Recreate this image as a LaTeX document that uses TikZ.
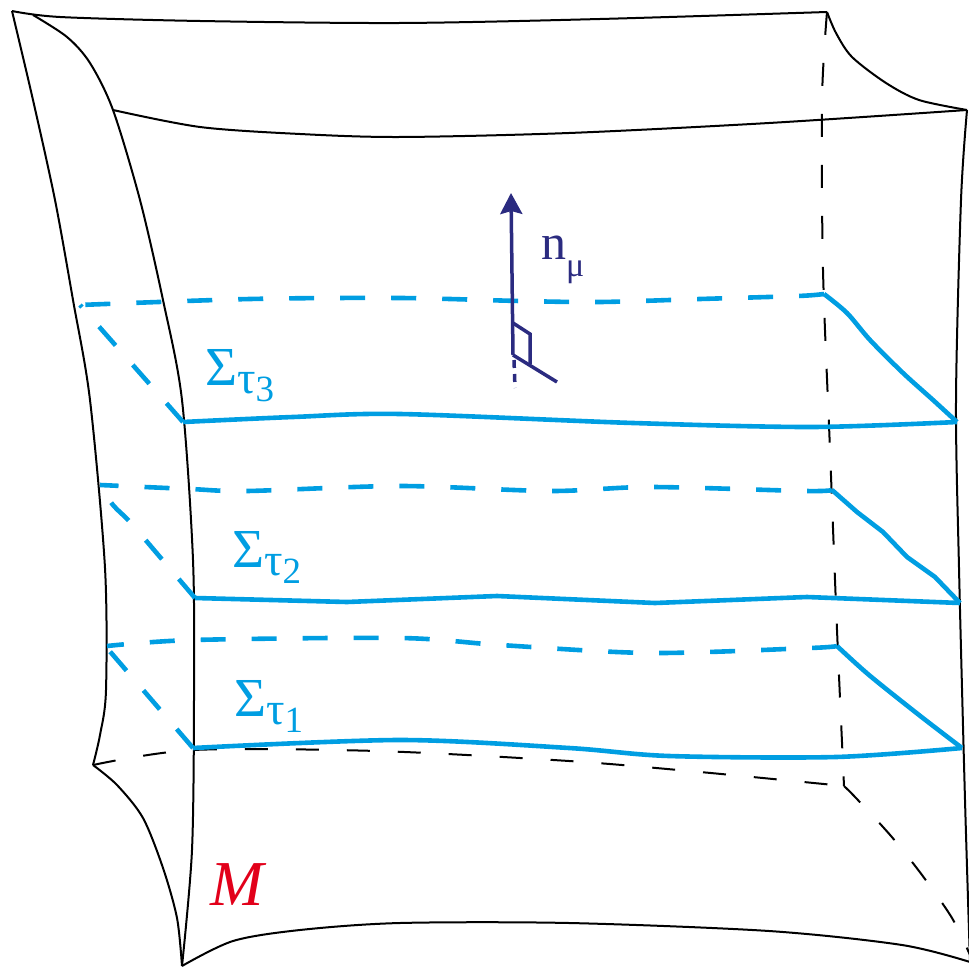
\documentclass[tikz,border=0pt]{standalone}
\usepackage{fontspec}
\setmainfont{Liberation Serif}
\usetikzlibrary{arrows.meta}
\definecolor{skyb}{RGB}{0,158,226}
\definecolor{navyb}{RGB}{43,43,128}
\definecolor{redM}{RGB}{226,0,26}
\newcommand{\sigmalab}[1]{\fontsize{55}{60}\selectfont Σ\raisebox{-8pt}{\fontsize{46}{50}\selectfont τ}\raisebox{-16pt}{\fontsize{37}{40}\selectfont #1}}
\begin{document}
\begin{tikzpicture}[x=1pt,y=-1pt,
  edge/.style={line width=2pt, black, line join=round},
  hidden/.style={edge, dash pattern=on 23pt off 28pt},
  surf/.style={line width=4.6pt, skyb, line join=round},
  surfhid/.style={surf, dash pattern=on 25pt off 26pt},
  normal/.style={line width=3.5pt, navyb},
  lab/.style={anchor=base west, inner sep=0pt, text=skyb}]
\useasboundingbox (0,0) rectangle (969,968);
% black edges
\draw[edge] plot[smooth] coordinates {(12,11) (60,17) (200,21) (400,23) (600,19) (827,12)};
\draw[edge] plot[smooth] coordinates {(12,11) (33,100) (55,200) (73,300) (90,400) (105,568) (106,690) (100,735) (93,765)};
\draw[edge] plot[smooth] coordinates {(33,15) (67,37) (90,63) (113,110) (140,200) (163,300) (182,400) (193,560) (194,700) (192,850) (182,966)};
\draw[edge] plot[smooth] coordinates {(113,110) (200,127) (300,134) (400,137) (569,133) (769,123) (967,110)};
\draw[edge] plot[smooth] coordinates {(827,12) (836,33) (852,57) (886,83) (919,100) (967,110)};
\draw[edge] plot[smooth] coordinates {(967,110) (961,200) (956,400) (959,568) (965,800) (970,962)};
\draw[edge] plot[smooth] coordinates {(93,765) (117,785) (143,818) (163,868) (177,918) (182,966)};
\draw[edge] plot[smooth] coordinates {(182,966) (233,941) (300,930) (400,923) (569,923) (769,931) (902,945) (970,962)};
\draw[hidden] plot[smooth] coordinates {(827,12) (822,100) (823,270) (830,450) (837,630) (844,786)};
\draw[hidden] plot[smooth] coordinates {(93,765) (193,750) (377,751) (569,761) (700,772) (844,786)};
\draw[hidden] plot[smooth] coordinates {(844,786) (856,798) (891,836) (922,875) (952,918) (970,955)};
% surface 3
\draw[surfhid] plot[smooth] coordinates {(824,294) (798,296) (700,299) (600,302) (520,301) (400,298) (250,299) (80,305)};
\draw[surfhid] (183,422) -- (80,305);
\draw[surf] plot[smooth] coordinates {(183,422) (293,417) (400,414) (633,423) (812,427) (957,422)};
\draw[surf] plot[smooth] coordinates {(824,294) (847,313) (870,340) (903,373) (933,400) (957,422)};
% surface 2
\draw[surfhid] plot[smooth] coordinates {(832,490) (805,491) (650,487) (550,491) (400,486) (247,491) (190,489) (100,485)};
\draw[surfhid] plot[smooth] coordinates {(195,598) (160,557) (130,522) (113,505) (100,485)};
\draw[surf] (195,598) -- (347,602) -- (497,596) -- (655,603) -- (807,597) -- (960,603);
\draw[surf] (832,490) -- (857,512) -- (883,532) -- (907,557) -- (935,577) -- (960,603);
% surface 1
\draw[surfhid] plot[smooth] coordinates {(837,646) (810,648) (650,653) (500,645) (400,638) (193,640) (107,646)};
\draw[surfhid] (193,748) -- (107,648);
\draw[surf] plot[smooth] coordinates {(193,748) (400,740) (569,748) (669,756) (836,757) (962,748)};
\draw[surf] plot[smooth] coordinates {(837,646) (869,675) (919,715) (962,748)};
% normal vector
\draw[normal, -{Stealth[length=21pt,width=22pt,inset=3pt]}] (513,355) -- (511,193);
\draw[normal] (513,323) -- (530,334) -- (530,364);
\draw[normal] (513,355) -- (557,382);
\draw[normal, dash pattern=on 8pt off 6pt] (514,360) -- (515,388);
% labels
\node[lab] (s3) at (205,385) {\sigmalab{3}};
\node[lab] (s2) at (232,567) {\sigmalab{2}};
\node[lab] (s1) at (234,716) {\sigmalab{1}};
\node[anchor=base west, inner sep=0pt, text=navyb] (nmu) at (541,260) {\fontsize{50}{55}\selectfont n\raisebox{-17pt}{\fontsize{34}{36}\selectfont μ}};
\node[anchor=base west, inner sep=0pt, text=redM] (mlab) at (210,905) {\fontsize{64}{70}\selectfont\itshape M};
\end{tikzpicture}
\end{document}
